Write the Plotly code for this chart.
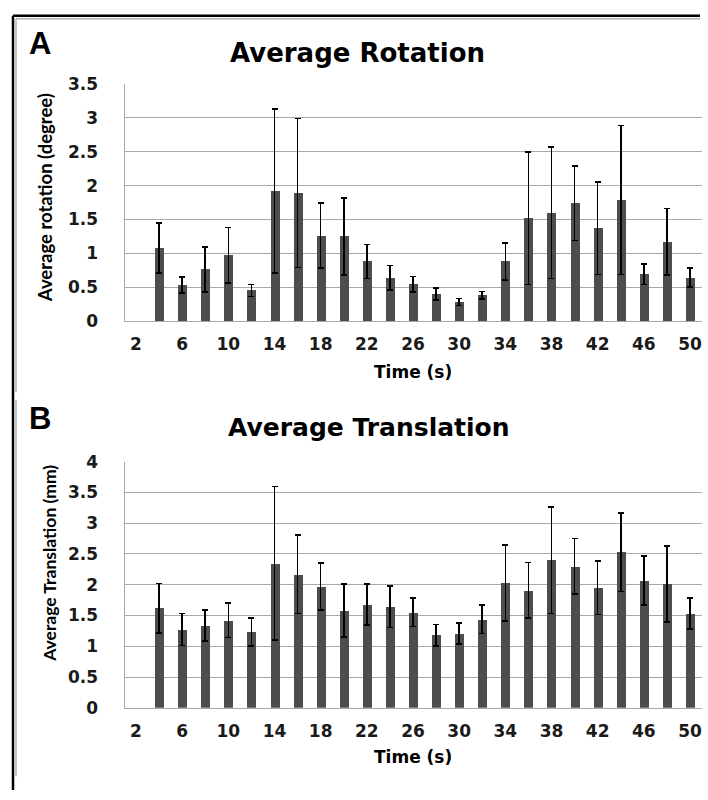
import plotly.graph_objects as go

W, H = 708, 800

# ---- data ----
time_s = [2, 4, 6, 8, 10, 12, 14, 16, 18, 20, 22, 24, 26, 28, 30, 32, 34, 36, 38, 40, 42, 44, 46, 48, 50]
x_ticks = [2, 6, 10, 14, 18, 22, 26, 30, 34, 38, 42, 46, 50]

rotation_mean = [None, 1.08, 0.53, 0.76, 0.97, 0.45, 1.92, 1.89, 1.26, 1.25, 0.88, 0.64, 0.54, 0.40, 0.28,
                 0.38, 0.88, 1.52, 1.60, 1.74, 1.37, 1.79, 0.69, 1.17, 0.64]
rotation_err = [None, 0.37, 0.12, 0.33, 0.41, 0.09, 1.21, 1.10, 0.48, 0.57, 0.25, 0.18, 0.115, 0.09, 0.05,
                0.055, 0.27, 0.98, 0.97, 0.55, 0.68, 1.10, 0.15, 0.49, 0.14]

translation_mean = [None, 1.62, 1.27, 1.34, 1.42, 1.23, 2.35, 2.17, 1.97, 1.58, 1.68, 1.64, 1.55, 1.18, 1.21,
                    1.44, 2.03, 1.91, 2.40, 2.30, 1.95, 2.53, 2.07, 2.01, 1.53]
translation_err = [None, 0.40, 0.26, 0.25, 0.28, 0.23, 1.25, 0.64, 0.38, 0.43, 0.33, 0.335, 0.23, 0.175, 0.17,
                   0.235, 0.615, 0.455, 0.865, 0.45, 0.435, 0.64, 0.40, 0.62, 0.25]

rot_ticks = [0, 0.5, 1, 1.5, 2, 2.5, 3, 3.5]
tra_ticks = [0, 0.5, 1, 1.5, 2, 2.5, 3, 3.5, 4]

BAR = "#4d4d4d"
GRID = "#a8a8a8"
FONT = "Lato"
WIDE = "DejaVu Sans"

def px_x(p):
    return p / W

def px_y(p):
    return 1 - p / H

fig = go.Figure()

for (vals, errs, xa, ya) in [(rotation_mean, rotation_err, "x", "y"),
                              (translation_mean, translation_err, "x2", "y2")]:
    fig.add_trace(go.Bar(
        x=time_s, y=vals, width=0.78, marker=dict(color=BAR, line=dict(width=0)),
        error_y=dict(type="data", array=errs, visible=True, color="black", thickness=1.6, width=3),
        xaxis=xa, yaxis=ya, showlegend=False,
    ))

tickfont = dict(family=WIDE, size=17, color="#1a1a1a", weight="bold")

xcommon = dict(range=[1, 51], tickmode="array", tickvals=x_ticks, ticktext=[str(v) for v in x_ticks],
               showgrid=False, zeroline=False, showline=True, linecolor=GRID, linewidth=1,
               ticks="", tickfont=tickfont, ticklabelstandoff=8)
ycommon = dict(showgrid=True, gridcolor=GRID, gridwidth=1, zeroline=False, showline=True,
               linecolor=GRID, linewidth=1, ticks="", tickfont=tickfont, ticklabelstandoff=22)

fig.update_layout(
    width=W, height=H, margin=dict(l=0, r=0, t=0, b=0),
    paper_bgcolor="white", plot_bgcolor="white",
    bargap=0,
    xaxis=dict(domain=[px_x(124.5), px_x(701.5)], anchor="y", **xcommon),
    yaxis=dict(domain=[px_y(319), px_y(76)], anchor="x", range=[0, 3.5],
               tickmode="array", tickvals=rot_ticks, ticktext=[f"{v:g}" for v in rot_ticks], **ycommon),
    xaxis2=dict(domain=[px_x(124.5), px_x(701.5)], anchor="y2", **xcommon),
    yaxis2=dict(domain=[px_y(715.7), px_y(463.3)], anchor="x2", range=[0, 4],
                tickmode="array", tickvals=tra_ticks, ticktext=[f"{v:g}" for v in tra_ticks], **ycommon),
)

def ann(text, x, y, size, angle=0, family=FONT, weight="bold"):
    fig.add_annotation(text=text, x=px_x(x), y=px_y(y), xref="paper", yref="paper",
                       showarrow=False, textangle=angle, xanchor="center", yanchor="middle",
                       font=dict(family=family, size=size, color="black", weight=weight))

ann("A", 40, 34, 31, family="Liberation Sans")
ann("B", 40, 419, 31, family="Liberation Sans")
ann("Average Rotation", 357, 44, 26, family=WIDE)
ann("Average Translation", 369, 428, 25, family=WIDE)
ann("Average rotation (degree)", 45, 193, 18.5, angle=-90)
ann("Average Translation (mm)", 50, 568, 17.5, angle=-90)
ann("Time (s)", 413, 371, 17, family=WIDE)
ann("Time (s)", 413, 766, 17, family=WIDE)

# frame lines
def line(x0, y0, x1, y1, color, width):
    fig.add_shape(type="line", xref="paper", yref="paper",
                  x0=px_x(x0), y0=px_y(y0), x1=px_x(x1), y1=px_y(y1),
                  line=dict(color=color, width=width))

line(13, 6, 700, 6, "black", 2.5)
line(13, 6, 13, 800, "black", 2.5)
line(16, 9, 700, 9, "#b0b0b0", 1.5)
line(16, 9, 16, 392, "#b0b0b0", 1.5)
line(16, 400, 16, 786, "#b0b0b0", 1.5)

fig.write_html("out.html")
